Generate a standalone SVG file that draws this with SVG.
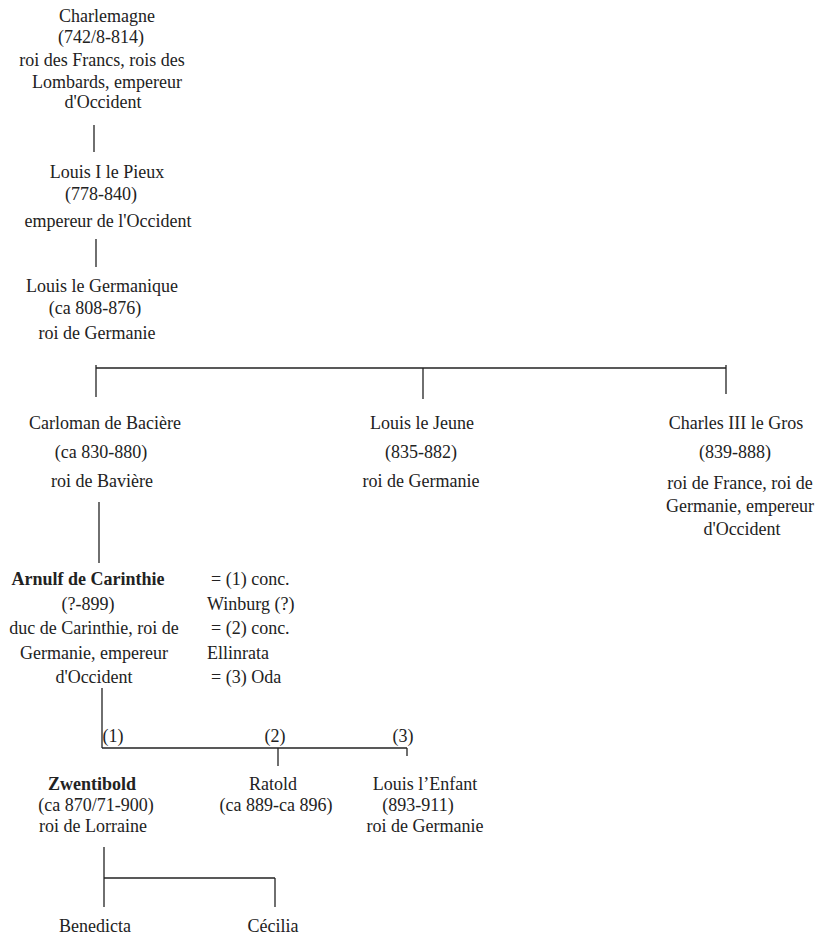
<svg xmlns="http://www.w3.org/2000/svg" width="817" height="936" viewBox="0 0 817 936">
<style>
text{font-family:"Liberation Serif","Times New Roman",serif;font-size:18px;fill:#222;text-anchor:middle}
text.b{font-weight:bold}
text.l{text-anchor:start}
.c line{stroke:#222;stroke-width:1.3}
</style>
<rect width="817" height="936" fill="#fff"/>
<g class="c" id="connectors">
<line x1="94" y1="125" x2="94" y2="152"/>
<line x1="96" y1="239" x2="96" y2="267"/>
<line x1="96" y1="368" x2="726" y2="368"/>
<line x1="96" y1="365" x2="96" y2="397"/>
<line x1="423" y1="368" x2="423" y2="399"/>
<line x1="726" y1="365" x2="726" y2="394"/>
<line x1="99" y1="502" x2="99" y2="563"/>
<line x1="102" y1="688" x2="102" y2="748"/>
<line x1="102" y1="748" x2="407" y2="748"/>
<line x1="278" y1="748" x2="278" y2="766"/>
<line x1="407" y1="748" x2="407" y2="756"/>
<line x1="104" y1="847" x2="104" y2="907"/>
<line x1="104" y1="878" x2="275" y2="878"/>
<line x1="275" y1="878" x2="275" y2="907"/>
</g>
<g id="charlemagne">
<text x="107" y="22">Charlemagne</text>
<text x="101" y="43">(742/8-814)</text>
<text x="102" y="66">roi des Francs, rois des</text>
<text x="107" y="88">Lombards, empereur</text>
<text x="103" y="108">d'Occident</text>
</g>
<g id="louis1">
<text x="107" y="178">Louis I le Pieux</text>
<text x="101" y="200">(778-840)</text>
<text x="108" y="227">empereur de l'Occident</text>
</g>
<g id="louisgermanique">
<text x="102" y="292">Louis le Germanique</text>
<text x="95" y="314">(ca 808-876)</text>
<text x="97" y="339">roi de Germanie</text>
</g>
<g id="carloman">
<text x="105" y="429">Carloman de Bacière</text>
<text x="101" y="458">(ca 830-880)</text>
<text x="102" y="487">roi de Bavière</text>
</g>
<g id="louisjeune">
<text x="422" y="429">Louis le Jeune</text>
<text x="421" y="458">(835-882)</text>
<text x="421" y="487">roi de Germanie</text>
</g>
<g id="charles3">
<text x="736" y="429">Charles III le Gros</text>
<text x="735" y="458">(839-888)</text>
<text x="740" y="489">roi de France, roi de</text>
<text x="740" y="512">Germanie, empereur</text>
<text x="742" y="535">d'Occident</text>
</g>
<g id="arnulf">
<text class="b" x="88" y="585">Arnulf de Carinthie</text>
<text x="88" y="610">(?-899)</text>
<text x="94" y="634">duc de Carinthie, roi de</text>
<text x="94" y="659">Germanie, empereur</text>
<text x="94" y="683">d'Occident</text>
</g>
<g id="spouses">
<text class="l" x="211" y="585">= (1) conc.</text>
<text class="l" x="207" y="610">Winburg (?)</text>
<text class="l" x="211" y="634">= (2) conc.</text>
<text class="l" x="207" y="659">Ellinrata</text>
<text class="l" x="211" y="683">= (3) Oda</text>
</g>
<g id="marks">
<text x="113" y="742">(1)</text>
<text x="275" y="742">(2)</text>
<text x="403" y="742">(3)</text>
</g>
<g id="zwentibold">
<text class="b" x="92" y="790">Zwentibold</text>
<text x="96" y="811">(ca 870/71-900)</text>
<text x="93" y="832">roi de Lorraine</text>
</g>
<g id="ratold">
<text x="273" y="790">Ratold</text>
<text x="276" y="811">(ca 889-ca 896)</text>
</g>
<g id="louisenfant">
<text x="425" y="790">Louis l’Enfant</text>
<text x="418" y="811">(893-911)</text>
<text x="425" y="832">roi de Germanie</text>
</g>
<g id="benedicta">
<text x="95" y="932">Benedicta</text>
</g>
<g id="cecilia">
<text x="273" y="932">Cécilia</text>
</g>
</svg>
